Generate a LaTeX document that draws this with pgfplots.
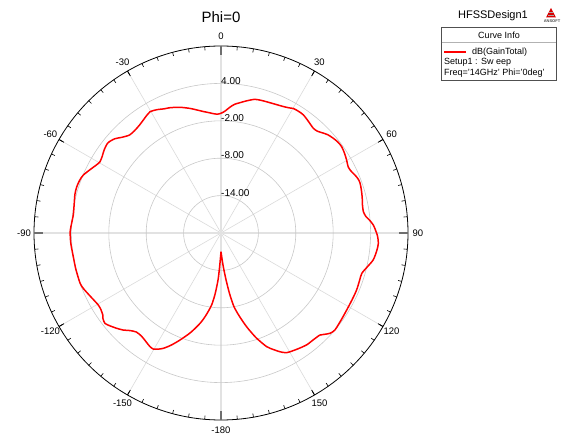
\documentclass[border=0pt]{standalone}
\usepackage{fontspec}
\setmainfont{Liberation Sans}
\usepackage{pgfplots}
\usepackage{pgfplotstable}
\pgfplotsset{compat=1.18}
\definecolor{gridc}{RGB}{200,200,200}
\definecolor{spokec}{RGB}{218,218,218}
\definecolor{mainc}{RGB}{226,226,226}
\definecolor{majtick}{RGB}{110,110,110}
\definecolor{boxc}{RGB}{80,80,80}
\definecolor{curvered}{RGB}{255,0,0}
\pgfplotstableread{
th db
-180 -17.0
-178 -15.1
-176.5 -12.6
-174.5 -10.2
-172.5 -8.3
-169.5 -6.5
-166.9 -5.1
-163 -3.3
-159 -1.6
-156 -0.3
-153.4 0.7
-151.5 1.2
-149.8 1.55
-148 1.5
-145.5 1.2
-142.5 0.9
-139.5 0.9
-137 1.4
-134.8 2.1
-132.4 2.67
-130 3.2
-127.9 3.6
-126 3.4
-124.9 3.1
-122.5 2.85
-120.4 2.83
-117.5 3.1
-115 3.4
-112 3.8
-109.6 4.0
-104 4.0
-99.1 4.0
-94 4.15
-89.5 4.2
-86 4.0
-83 3.87
-79 4.0
-75 4.25
-72.2 4.3
-69.5 4.2
-67.2 3.97
-64 3.3
-61.5 2.8
-59.5 2.53
-57 2.7
-54.6 3.0
-51.5 3.2
-48.5 2.8
-46 2.1
-43 1.5
-40 1.5
-37 1.7
-34.5 2.0
-32 2.35
-30.3 2.55
-27.5 2.3
-24.5 1.9
-22.1 1.7
-18 1.2
-14 0.6
-11 0.1
-8.3 -0.3
-5.5 -0.62
-2.9 -0.88
-1 -0.9
0.5 -0.72
2 -0.4
4.1 0.25
6 0.75
8.3 1.13
11 1.6
14.3 2.13
17.5 2.25
20.6 2.33
23.5 2.45
26 2.6
28.5 2.85
30.1 3.1
32.5 3.15
34.9 3.1
38 2.75
41.4 2.4
43.5 2.5
45.5 2.9
47.5 3.3
49.9 3.57
52 3.75
54.4 3.8
57 3.6
59.9 3.3
62.5 3.0
64.5 3.1
66.5 3.4
68.5 3.65
70.3 3.7
73 3.55
76 3.35
78.5 3.15
81.5 3.1
83.5 3.4
85 3.9
87 4.47
89 4.8
91 5.1
93.7 5.3
96.5 5.15
100 4.8
103 4.1
106 3.5
109 3.5
112.8 3.6
117 3.6
121.5 3.65
126 3.8
130.4 4.0
132.6 3.77
134.5 3.2
135.9 2.8
139 2.65
142.6 2.6
146.9 2.27
151.2 1.9
153.5 1.3
155.5 0.6
158.1 -0.35
161.5 -2.3
164.7 -4.4
167.5 -6.3
170 -8.0
172 -10.2
174 -12.6
176.5 -14.9
180 -17.0
}\gaindata
\begin{document}
\begin{tikzpicture}
\useasboundingbox (0,0) rectangle (567pt,439pt);
% polar grid
\begin{scope}[shift={(221pt,206pt)}, x=6.2333pt, y=6.2333pt]
  \foreach \a in {30,60,120,150,210,240,300,330}
    \draw[spokec, line width=0.6pt] (0,0) -- ({90-\a}:30);
  \draw[mainc, line width=1.3pt] (-30,0) -- (30,0);
  \draw[mainc, line width=1.3pt] (0,-30) -- (0,30);
  \foreach \r in {6,12,18,24}
    \draw[gridc, line width=0.6pt] (0,0) circle[radius=\r];
  \draw[black, line width=0.8pt] (0,0) circle[radius=30];
  \foreach \a in {0,5,...,355}
    \draw[black, line width=0.6pt] ({90-\a}:30) -- ({90-\a}:29.4);
  \foreach \a in {30,60,120,150,210,240,300,330}
    \draw[black, line width=0.8pt] ({90-\a}:30) -- ({90-\a}:29.1);
  \foreach \a in {0,90,180,270}
    \draw[majtick, line width=2.2pt] ({90-\a}:30) -- ({90-\a}:28.6);
  \foreach \a/\t in {0/0,30/30,60/60,90/90,120/120,150/150,180/-180,210/-150,240/-120,270/-90,300/-60,330/-30}
    \node[font=\fontsize{9.5}{11}\selectfont, inner sep=0pt] at ({90-\a}:31.6) {\t};
  \foreach \r/\t in {24/4.00,18/-2.00,12/-8.00,6/-14.00}
    \node[font=\fontsize{10}{12}\selectfont, anchor=west, inner sep=0pt] at (0,\r+0.45) {\t};
\end{scope}
\begin{axis}[at={(221pt,206pt)}, anchor=center, scale only axis,
  width=374pt, height=374pt, xmin=-30, xmax=30, ymin=-30, ymax=30,
  hide axis, clip=false]
\addplot[curvered, line width=1.5pt, smooth, tension=0.45] table[
  x expr={(\thisrow{db}+20)*sin(\thisrow{th})},
  y expr={(\thisrow{db}+20)*cos(\thisrow{th})}] {\gaindata};
\end{axis}
% title
\node[font=\fontsize{15}{17}\selectfont] at (221pt,422pt) {Phi=0};
\node[font=\fontsize{11}{13}\selectfont] at (493pt,423.3pt) {HFSSDesign1};
% logo
\fill[red!85!black] (546pt,421.5pt) -- (556pt,421.5pt) -- (551pt,431pt) -- cycle;
\draw[gray!70, line width=0.5pt] (548pt,424pt) -- (554pt,424pt);
\draw[gray!70, line width=0.5pt] (549.3pt,426.5pt) -- (552.7pt,426.5pt);
\node[font=\fontsize{4}{5}\selectfont\bfseries, text=black!70, inner sep=0pt] at (552pt,418.3pt) {ANSOFT};
% legend box
\draw[boxc, line width=1pt] (441pt,358.3pt) rectangle (556.7pt,411.7pt);
\draw[gray!60, line width=0.6pt] (441.5pt,396.3pt) -- (556.2pt,396.3pt);
\node[font=\fontsize{9}{11}\selectfont] at (499pt,403.5pt) {Curve Info};
\path[draw=curvered, line width=1.8pt] (444pt,387.3pt) -- (465.7pt,387.3pt);
\node[font=\fontsize{9}{11}\selectfont, anchor=west, inner sep=0pt] at (472pt,387.3pt) {dB(GainTotal)};
\node[font=\fontsize{9}{11}\selectfont, anchor=west, inner sep=0pt] at (444pt,376.7pt) {Setup1 : Sw eep};
\node[font=\fontsize{9}{11}\selectfont, anchor=west, inner sep=0pt] at (444pt,366.3pt) {Freq='14GHz' Phi='0deg'};
\end{tikzpicture}
\end{document}
